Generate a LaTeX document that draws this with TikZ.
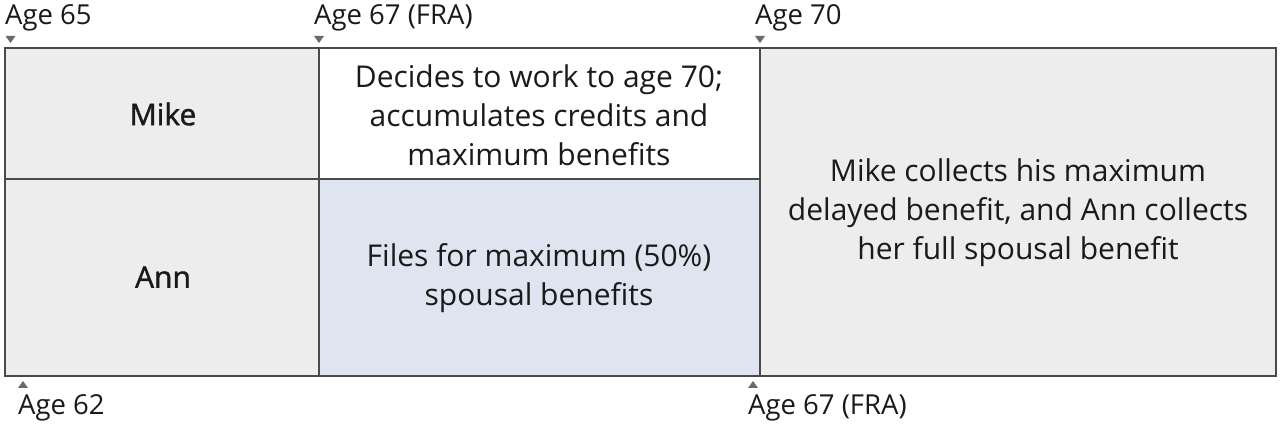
\documentclass[tikz,border=0pt]{standalone}
\usepackage{fontspec}
\setmainfont{Open Sans}
\newfontfamily\semib{Open Sans}[FakeBold=1.2]
\definecolor{cellgray}{HTML}{EDEDED}
\definecolor{cellblue}{HTML}{DEE5F1}
\definecolor{edge}{HTML}{4A4A4A}
\definecolor{mark}{HTML}{6A6A6A}
\definecolor{txt}{HTML}{1A1A1A}
\begin{document}
\begin{tikzpicture}[x=1pt,y=-1pt,
  celltext/.style={text=txt,font=\fontsize{30}{39}\selectfont,align=center,inner sep=0pt},
  namelabel/.style={text=txt,font=\fontsize{30}{34}\semib,inner sep=0pt},
  agelabel/.style={text=txt,font=\fontsize{27.5}{30}\selectfont,inner sep=0pt,anchor=west},
  downmark/.style={fill=mark,draw=none},
  line/.style={draw=edge,line width=1.6pt}]
\useasboundingbox (0,0) rectangle (1280,427);
% cells
\fill[cellgray] (5,48) rectangle (319,376);
\fill[white] (319,48) rectangle (760,179);
\fill[cellblue] (319,179) rectangle (760,376);
\fill[cellgray] (760,48) rectangle (1276,376);
% grid
\draw[line] (5,48) rectangle (1276,376);
\draw[line] (319,48) -- (319,376);
\draw[line] (760,48) -- (760,376);
\draw[line] (5,179) -- (760,179);
% texts
\node[namelabel] (mike) at (163,114) {Mike};
\node[namelabel] (ann) at (163,277) {Ann};
\node[celltext] (mwork) at (539,115) {Decides to work to age 70;\\accumulates credits and\\maximum benefits};
\node[celltext] (afile) at (539,278) {Files for maximum (50\%)\\spousal benefits};
\node[celltext] (both) at (1018,213) {Mike collects his maximum\\delayed benefit, and Ann collects\\her full spousal benefit};
% top markers
\fill[downmark] (5.5,36) -- (15.5,36) -- (10.5,43) -- cycle;
\fill[downmark] (314,36) -- (324,36) -- (319,43) -- cycle;
\fill[downmark] (755,36) -- (765,36) -- (760,43) -- cycle;
\node[agelabel] (a65) at (5,18) {Age 65};
\node[agelabel] (a67t) at (314,18) {Age 67 (FRA)};
\node[agelabel] (a70) at (755,18) {Age 70};
% bottom markers
\fill[downmark] (18,388) -- (28,388) -- (23,381) -- cycle;
\fill[downmark] (748,388) -- (758,388) -- (753,381) -- cycle;
\node[agelabel] (a62) at (18,408) {Age 62};
\node[agelabel] (a67b) at (748,408) {Age 67 (FRA)};
\end{tikzpicture}
\end{document}
